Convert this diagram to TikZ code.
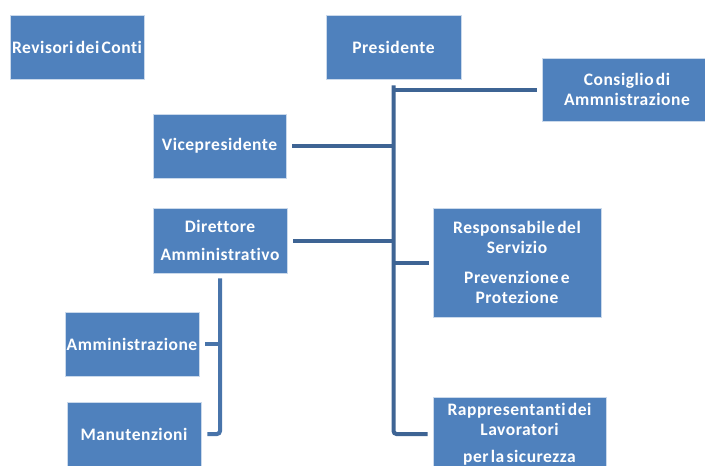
\documentclass[tikz,border=0pt]{standalone}
\usepackage{fontspec}
\setmainfont{Carlito}[Ligatures=NoCommon, LetterSpace=3, WordSpace=0.5]
\usepackage{tikz}
\usetikzlibrary{calc}

\definecolor{boxblue}{RGB}{79,129,189}
\definecolor{linkblue}{RGB}{62,100,148}
\definecolor{sublinkblue}{RGB}{72,116,170}

\tikzset{
  box/.style={fill=boxblue, draw=white!70!boxblue, line width=0.6pt,
    text=white, inner sep=0pt, align=center,
    font=\bfseries\fontsize{17.5}{20}\selectfont},
  link/.style={draw=linkblue, line width=4pt},
  sublink/.style={draw=sublinkblue, line width=4pt}
}

\begin{document}
\begin{tikzpicture}[x=1pt,y=-1pt]
  \useasboundingbox (0,0) rectangle (705,466);
  %\draw[very thin,lightgray] (0,0) grid[step=50] (705,466);
  \node[box, minimum width=134pt, minimum height=64pt] (revisori) at (77,47) {Revisori dei Conti};
  \node[box, minimum width=135pt, minimum height=64pt] (presidente) at (393.5,47) {Presidente};
  \node[box, minimum width=170pt, minimum height=63pt] (consiglio) at (627,89.5) {Consiglio di\\Ammnistrazione};
  \node[box, minimum width=133pt, minimum height=64pt] (vice) at (219.5,146) {Vicepresidente};
  \node[box, minimum width=134pt, minimum height=65pt] (direttore) at (220,240.5) {Direttore\\[8pt]Amministrativo};
  \node[box, minimum width=168pt, minimum height=109pt] (responsabile) at (517,262.5) {Responsabile del\\Servizio\\[10pt]Prevenzione e\\Protezione};
  \node[box, minimum width=134pt, minimum height=64pt] (amministrazione) at (132,344) {Amministrazione};
  \node[box, minimum width=134pt, minimum height=64pt] (manutenzioni) at (134,434) {Manutenzioni};
  \node[box, minimum width=173pt, minimum height=74pt] (rappresentanti) at (519.5,434) {Rappresentanti dei\\Lavoratori\\[7pt]per la sicurezza};

  \coordinate (trunk) at (394,85);
  \coordinate (subtrunk) at (220,278);

  % main line from Presidente
  \draw[link, rounded corners=3pt] ([yshift=-6pt]presidente.south) |- ([xshift=-5pt]rappresentanti.west);
  \draw[link] ([xshift=-5pt]consiglio.west) -- (consiglio.west -| trunk);
  \draw[link] ([xshift=6pt]vice.east) -- (vice.east -| trunk);
  \draw[link] ([xshift=6pt]direttore.east) -- (direttore.east -| trunk);
  \draw[link] ([xshift=-4pt]responsabile.west) -- (responsabile.west -| trunk);
  % line from Direttore
  \draw[sublink, rounded corners=3pt] ([yshift=-5pt]direttore.south) |- ([xshift=6pt]manutenzioni.east);
  \draw[sublink] ([xshift=6pt]amministrazione.east) -- (amministrazione.east -| subtrunk);
\end{tikzpicture}
\end{document}
